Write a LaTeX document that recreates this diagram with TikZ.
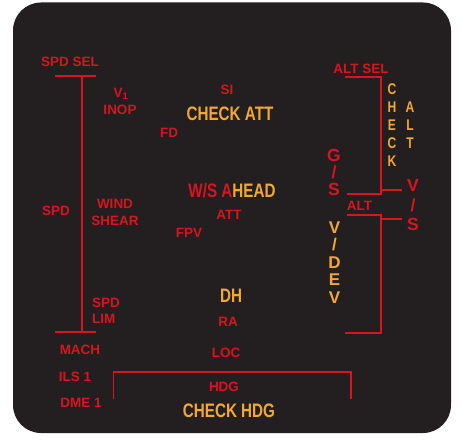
\documentclass[tikz,border=0pt]{standalone}
\usepackage{fontspec}
\setmainfont{Liberation Sans}
\newfontfamily\condfont[FakeStretch=0.78]{Liberation Sans}
\definecolor{panel}{HTML}{231F20}
\definecolor{warnred}{HTML}{D7151F}
\definecolor{amber}{HTML}{F2A833}
\tikzset{
  lbl/.style={inner sep=0pt, anchor=base, text=warnred, font=\bfseries\fontsize{13.5}{15}\selectfont},
  big/.style={inner sep=0pt, anchor=base, text=amber, font=\condfont\bfseries\fontsize{19.5}{21}\selectfont},
  vlet/.style={inner sep=0pt, anchor=base, text=amber, font=\condfont\bfseries\fontsize{15.5}{17}\selectfont},
  gsl/.style={inner sep=0pt, anchor=base, text=warnred, font=\bfseries\fontsize{17.5}{19}\selectfont},
  vdl/.style={inner sep=0pt, anchor=base, text=amber, font=\bfseries\fontsize{17}{19}\selectfont},
  redrule/.style={draw=warnred, line width=1.8pt, line join=miter},
}
\begin{document}
\begin{tikzpicture}[x=1pt,y=-1pt]
\useasboundingbox (0,0) rectangle (474,441);
\fill[white] (0,0) rectangle (474,441);
\fill[panel, rounded corners=28pt] (13,2.5) rectangle (451,433);

% left speed bar
\coordinate (sl1) at (55,76);
\coordinate (sr1) at (95.5,76);
\coordinate (sm1) at (82,76);
\coordinate (sm2) at (82,332);
\coordinate (sl2) at (55,332);
\coordinate (sr2) at (95.5,332);
\draw[redrule] (sl1) -- (sr1);
\draw[redrule] (sm1) -- (sm2);
\draw[redrule] (sl2) -- (sr2);

% upper right bracket
\coordinate (a1) at (345,77);
\coordinate (a2) at (381,77);
\coordinate (a3) at (381,194);
\coordinate (a4) at (347,194);
\coordinate (a5) at (381,190);
\coordinate (a6) at (402,190);
\draw[redrule] (a1) -- (a2) -- (a3) -- (a4);
\draw[redrule] (a5) -- (a6);

% lower right bracket
\coordinate (b1) at (347,215);
\coordinate (b2) at (381,215);
\coordinate (b3) at (381,333);
\coordinate (b4) at (345,333);
\coordinate (b5) at (381,219);
\coordinate (b6) at (402,219);
\draw[redrule] (b1) -- (b2) -- (b3) -- (b4);
\draw[redrule] (b5) -- (b6);

% bottom heading bracket
\coordinate (c1) at (113.5,399);
\coordinate (c2) at (113.5,372);
\coordinate (c3) at (351,372);
\coordinate (c4) at (351,399);
\draw[redrule] (c1) -- (c2) -- (c3) -- (c4);

% left labels
\node[lbl] (spdsel) at (70,66.7) {SPD SEL};
\node[lbl] (v1) at (121,97.3) {V\textsubscript{1}};
\node[lbl] (inop) at (120,115) {INOP};
\node[lbl] (spd) at (56,215) {SPD};
\node[lbl] (wind) at (115,208) {WIND};
\node[lbl] (shear) at (115,225) {SHEAR};
\node[lbl, anchor=base west] (spd2) at (92,307) {SPD};
\node[lbl, anchor=base west] (lim) at (92,323) {LIM};
\node[lbl] (mach) at (80,354) {MACH};
\node[lbl] (ils) at (75,381) {ILS 1};
\node[lbl] (dme) at (81,407) {DME 1};

% centre labels
\node[lbl] (si) at (227,95) {SI};
\node[big] (chkatt) at (230,120.7) {CHECK ATT};
\node[lbl] (fd) at (169,138) {FD};
\node[big] (wsahead) at (232,197) {\textcolor{warnred}{W/S A}HEAD};
\node[lbl] (att) at (229,219) {ATT};
\node[lbl] (fpv) at (189,237) {FPV};
\node[big] (dh) at (231,302) {DH};
\node[lbl] (ra) at (228,326) {RA};
\node[lbl] (loc) at (226,357) {LOC};
\node[lbl] (hdg) at (224,391) {HDG};
\node[big] (chkhdg) at (229,417) {CHECK HDG};

% right labels
\node[lbl] (altsel) at (361,74) {ALT SEL};
\node[lbl] (alt) at (359.5,210.7) {ALT};
\foreach \t [count=\i] in {C,H,E,C,K}
  \node[vlet] (ck\i) at (392,{94.5+18.1*(\i-1)}) {\t};
\foreach \t [count=\i] in {A,L,T}
  \node[vlet] (al\i) at (410,{112.6+18.1*(\i-1)}) {\t};
\foreach \t [count=\i] in {G,/,S}
  \node[gsl] (gs\i) at (334,{161+17.5*(\i-1)}) {\t};
\foreach \t [count=\i] in {V,/,S}
  \node[gsl] (vs\i) at (413,{192+19.2*(\i-1)}) {\t};
\foreach \t [count=\i] in {V,/,D,E,V}
  \node[vdl] (vd\i) at (334.5,{233.3+17.5*(\i-1)}) {\t};
\end{tikzpicture}
\end{document}
